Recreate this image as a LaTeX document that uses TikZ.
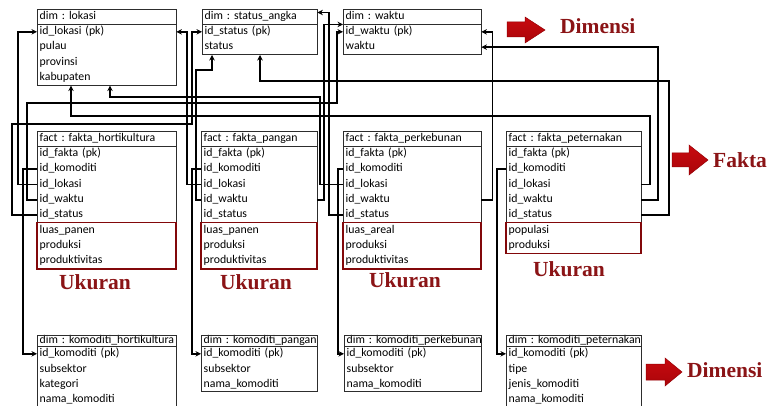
\documentclass[tikz,border=0pt]{standalone}
\usepackage{fontspec}
\setmainfont{Carlito}
\newfontfamily\labelfont{Liberation Serif}
\usetikzlibrary{arrows.meta,calc}
\frenchspacing

\definecolor{lblred}{RGB}{139,20,22}
\definecolor{boxred}{RGB}{130,8,10}
\definecolor{tblgray}{RGB}{45,45,45}

\tikzset{
  cellbase/.style={anchor=north west, inner xsep=2.5pt, inner ysep=0pt, align=left,
    font=\fontsize{11.8}{12}\selectfont, text height=8.3pt, text depth=2.6pt},
  tbl/.style={draw=tblgray, line width=0.9pt},
  conn/.style={line width=1.7pt, black, -{Stealth[length=5.5pt,width=5.5pt]}},
  measbox/.style={draw=boxred, line width=1.9pt},
  lbltext/.style={font=\labelfont\bfseries\fontsize{21.5}{22}\selectfont, text=lblred,
    inner sep=0pt, anchor=base west},
  redarrow/.style={top color={rgb,255:red,200;green,10;blue,15},
    middle color={rgb,255:red,250;green,45;blue,50},
    bottom color={rgb,255:red,170;green,5;blue,10}, draw={rgb,255:red,150;green,0;blue,5},
    line width=0.5pt}
}

% #1 name, #2 x, #3 top, #4 width, #5 header height, #6 header, #7 row count, #8 rows
\newcommand\dbtab[8]{%
  \pgfmathsetmacro\tabtw{#4-5}%
  \node[cellbase, minimum width=#4pt, text width=\tabtw pt, minimum height=#5pt] (#1h) at (#2,#3) {\mbox{#6}};
  \foreach \r [count=\i] in {#8}{
    \node[cellbase, minimum width=#4pt, text width=\tabtw pt, minimum height=15.3pt]
      (#1\i) at (#2,{#3+#5+(\i-1)*15.3}) {\mbox{\r}};
  }
  \draw[tbl] (#2,#3) rectangle ({#2+#4},{#3+#5+#7*15.3});
  \draw[tbl] (#2,{#3+#5}) -- ({#2+#4},{#3+#5});
}

\begin{document}
\begin{tikzpicture}[x=1pt,y=-1pt]
\useasboundingbox[fill=white] (0,0) rectangle (769,406);

% dimension tables (top)
\dbtab{lok}{37}{9}{139}{15}{dim : lokasi}{4}{id\_lokasi (pk),pulau,provinsi,kabupaten}
\dbtab{sta}{202}{9}{115}{15}{dim : status\_angka}{2}{id\_status (pk),status}
\dbtab{wak}{343}{9}{138}{15}{dim : waktu}{2}{id\_waktu (pk),waktu}

% fact tables
\dbtab{fho}{37}{131}{139}{15}{fact : fakta\_hortikultura}{8}{id\_fakta (pk),id\_komoditi,id\_lokasi,id\_waktu,id\_status,luas\_panen,produksi,produktivitas}
\dbtab{fpa}{201}{131}{116}{15}{fact : fakta\_pangan}{8}{id\_fakta (pk),id\_komoditi,id\_lokasi,id\_waktu,id\_status,luas\_panen,produksi,produktivitas}
\dbtab{fpe}{343}{131}{138}{15}{fact : fakta\_perkebunan}{8}{id\_fakta (pk),id\_komoditi,id\_lokasi,id\_waktu,id\_status,luas\_areal,produksi,produktivitas}
\dbtab{fpt}{506}{131}{135}{15}{fact : fakta\_peternakan}{7}{id\_fakta (pk),id\_komoditi,id\_lokasi,id\_waktu,id\_status,populasi,produksi}

% measure groups
\draw[measbox] (fho6.north west) rectangle (fho8.south east);
\draw[measbox] (fpa6.north west) rectangle (fpa8.south east);
\draw[measbox] (fpe6.north west) rectangle (fpe8.south east);
\draw[measbox] (fpt6.north west) rectangle (fpt7.south east);

% commodity dimension tables (bottom)
\dbtab{kho}{37}{335}{139}{11}{dim : komoditi\_hortikultura}{4}{id\_komoditi (pk),subsektor,kategori,nama\_komoditi}
\dbtab{kpa}{201}{335}{116}{11}{dim : komoditi\_pangan}{3}{id\_komoditi (pk),subsektor,nama\_komoditi}
\dbtab{kpe}{344}{335}{137}{11}{dim : komoditi\_perkebunan}{3}{id\_komoditi (pk),subsektor,nama\_komoditi}
\dbtab{kpt}{506}{335}{135}{11}{dim : komoditi\_peternakan}{4}{id\_komoditi (pk),tipe,jenis\_komoditi,nama\_komoditi}

% entry points on headers
\coordinate (stain) at ([yshift=-3.5pt]stah.north east);

% commodity keys
\draw[conn] (fho2.west) -- ++(-14,0) |- (kho1.west);
\draw[conn] (fpa2.west) -- ++(-9,0) |- (kpa1.west);
\draw[conn] (fpe2.west) -- ++(-5,0) |- (kpe1.west);
\draw[conn] (fpt2.west) -- ++(-9,0) |- (kpt1.west);

% location keys
\draw[conn] (fho3.west) -- ++(-19,0) |- (lok1.west);
\draw[conn] (fpa3.west) -- ++(-14,0) |- (lok1.east);
\draw[conn] (fpe3.west) -| (320,97) -| (110,0 |- lok4.south);
\draw[conn] (fpt3.east) -| (650,116) -| (71,0 |- lok4.south);

% time keys
\draw[conn] (fho4.west) -| (27,103) -| (337,0 |- wak1.west) -- (wak1.west);
\draw[conn] (fpa4.east) -| (324,0 |- wakh.south west) -- (wakh.south west);
\draw[conn] (fpa4.west) -| (196,70) -| (212,0 |- sta2.south);
\draw[conn] (fpe4.east) -- ++(11,0) |- (wak1.east);
\draw[conn] (fpt4.east) -| (658,0 |- wak2.east) -- (wak2.east);

% status keys
\draw[conn] (fho5.west) -| (12,124) -| (192,0 |- sta1.west) -- (sta1.west);
\draw[conn] (fpe5.west) -| (329,0 |- stain) -- (stain);
\draw[conn] (fpt5.east) -| (669,81) -| (260,0 |- sta2.south);

% legend arrows
\shade[redarrow] (507,22) -- (525,22) -- (525,17) -- (545,30) -- (525,43) -- (525,37) -- (507,37) -- cycle;
\shade[redarrow] (672,153) -- (689,153) -- (689,145) -- (708,160) -- (689,175) -- (689,167) -- (672,167) -- cycle;
\shade[redarrow] (646,364) -- (665,364) -- (665,358) -- (682,372) -- (665,386) -- (665,380) -- (646,380) -- cycle;

% labels
\node[lbltext] (dimtop) at (560,33.5) {Dimensi};
\node[lbltext] (fakta) at (713,168) {Fakta};
\node[lbltext] (dimbot) at (687,377) {Dimensi};
\node[lbltext] (ukho) at (59,290) {Ukuran};
\node[lbltext] (ukpa) at (220,290) {Ukuran};
\node[lbltext] (ukpe) at (369,288) {Ukuran};
\node[lbltext] (ukpt) at (533,277) {Ukuran};
\end{tikzpicture}
\end{document}
